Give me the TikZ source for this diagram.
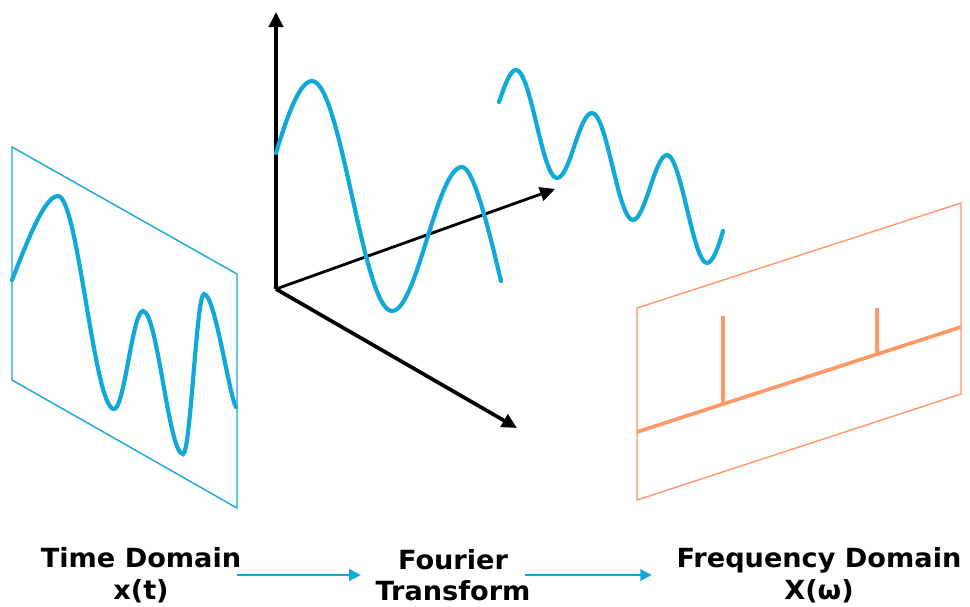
\documentclass[tikz,border=0pt]{standalone}
\usepackage{fontspec}
\newfontfamily\lblfont{DejaVu Sans}[FakeStretch=1.03]
\usetikzlibrary{arrows.meta, positioning}
\definecolor{sigblue}{HTML}{12A9D8}
\definecolor{specorange}{HTML}{FF9966}

\begin{document}
\begin{tikzpicture}[x=0.02cm, y=-0.02cm,
            signal/.style={sigblue, line width=2.4pt, line cap=round},
            timeframe/.style={sigblue, line width=0.8pt},
            freqframe/.style={specorange, line width=0.8pt},
            spike/.style={specorange, line width=1.9pt},
            axisline/.style={black, line width=2.1pt, -{Triangle[length=3mm, width=2.8mm]}},
            flow/.style={sigblue, line width=1.2pt, -{Triangle[length=2.3mm, width=2.3mm]}},
            domainlbl/.style={inner sep=0pt, align=center, font=\lblfont\bfseries\fontsize{15}{18}\selectfont}]
            \useasboundingbox (0,0) rectangle (970,606);

            \draw[timeframe] (12,147) -- (237,274) -- (237,508) -- (12,380) -- cycle;
            \draw[signal] (12,280) .. controls (26,245) and (44,196) .. (58,196)
                .. controls (78,196) and (94,409) .. (114,409)
                .. controls (124.5,409) and (132.5,311) .. (143,311)
                .. controls (157.5,311) and (168.5,454) .. (183,454)
                .. controls (190.6,454) and (196.4,294) .. (204,294)
                .. controls (215,294) and (229,395) .. (236,407);

            \coordinate (origin) at (276,289);
            \coordinate (ytip) at (276,12);
            \coordinate (xtip) at (555,189);
            \coordinate (ztip) at (517,428);
            \draw[axisline] (origin) -- (ytip);
            \draw[axisline, line width=1.6pt] (origin) -- (xtip);
            \draw[axisline] (origin) -- (ztip);

            \draw[signal] (276,153) .. controls (286,120) and (299,81) .. (312,81)
                .. controls (341,81) and (363,311) .. (392,311)
                .. controls (417,311) and (437,167) .. (462,167)
                .. controls (474,167) and (490,235) .. (501,281);
            \draw[signal] (499,102) .. controls (505,85) and (510,70) .. (516,70)
                .. controls (531,70) and (542,178) .. (557,178)
                .. controls (570,178) and (579,113) .. (592,113)
                .. controls (607,113) and (618,220) .. (633,220)
                .. controls (645,220) and (655,155) .. (667,155)
                .. controls (681,155) and (693,263) .. (707,263)
                .. controls (713,263) and (719,245) .. (723,231);

            \draw[freqframe] (637,308) -- (961,203) -- (961,394) -- (637,500) -- cycle;
            \draw[spike, line width=2.1pt] (637,432) -- (961,327);
            \draw[spike] (723,404) -- (723,316);
            \draw[spike] (877,354) -- (877,308);

            \node[domainlbl] (time) at (141,575) {Time Domain\\x(t)};
            \node[domainlbl] (fourier) at (453,575) {Fourier\\Transform};
            \node[domainlbl] (freq) at (819,575) {Frequency Domain\\X(ω)};

            \draw[flow, shorten <=-0.09cm, shorten >=0.29cm] (time) -- (fourier);
            \draw[flow, shorten <=-0.12cm, shorten >=0.49cm] (fourier) -- (freq);
        \end{tikzpicture}
\end{document}
